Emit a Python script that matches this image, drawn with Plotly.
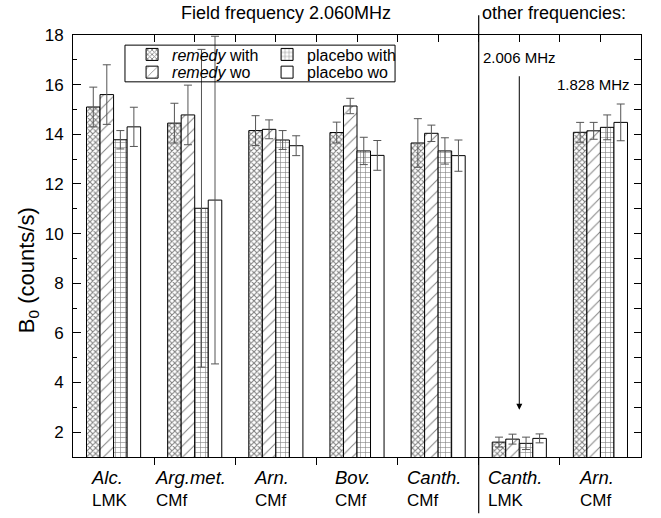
import plotly.graph_objects as go

# ---- data ----
group_names = ["Alc.", "Arg.met.", "Arn.", "Bov.", "Canth.", "Canth.", "Arn."]
group_preps = ["LMK", "CMf", "CMf", "CMf", "CMf", "LMK", "CMf"]

remedy_with = [15.1, 14.45, 14.15, 14.07, 13.65, 1.6, 14.08]
remedy_with_err = [0.8, 0.8, 0.6, 0.42, 0.98, 0.2, 0.4]
remedy_wo = [15.6, 14.78, 14.2, 15.14, 14.04, 1.72, 14.14]
remedy_wo_err = [1.2, 1.2, 0.38, 0.31, 0.33, 0.2, 0.34]
placebo_with = [13.78, 11.02, 13.77, 13.33, 13.33, 1.55, 14.28]
placebo_with_err = [0.37, 6.4, 0.38, 0.55, 0.53, 0.25, 0.5]
placebo_wo = [14.3, 11.35, 13.54, 13.15, 13.14, 1.75, 14.48]
placebo_wo_err = [0.79, 6.6, 0.4, 0.6, 0.63, 0.18, 0.74]

y_ticks = [2, 4, 6, 8, 10, 12, 14, 16, 18]

x = list(range(len(group_names)))

FONT = "Liberation Sans, Arial, sans-serif"

series = [
    ("<i>remedy</i> with", remedy_with, remedy_with_err, dict(shape="x", size=4, solidity=0.45), "legend"),
    ("<i>remedy</i> wo", remedy_wo, remedy_wo_err, dict(shape="/", size=8, solidity=0.12), "legend2"),
    ("placebo with", placebo_with, placebo_with_err, dict(shape="+", size=5, solidity=0.22), "legend"),
    ("placebo wo", placebo_wo, placebo_wo_err, dict(shape="", size=5, solidity=0.2), "legend2"),
]

fig = go.Figure()
for name, vals, errs, pat, leg in series:
    fig.add_trace(go.Bar(
        x=x, y=vals, name=name, legend=leg,
        marker=dict(color="white", line=dict(color="black", width=1),
                    pattern=dict(fgcolor="black", bgcolor="white", **pat)),
        error_y=dict(type="data", array=errs, visible=True, color="#555555",
                     thickness=1, width=4),
    ))

# invisible trace to hold the top/right axes
fig.add_trace(go.Scatter(x=[None], y=[None], xaxis="x2", yaxis="y2",
                         showlegend=False, hoverinfo="skip"))

leg_common = dict(xanchor="left", yanchor="top", orientation="h",
                  bgcolor="rgba(0,0,0,0)", borderwidth=0, font=dict(size=16),
                  itemwidth=30, entrywidth=90, entrywidthmode="pixels")

fig.update_layout(
    width=661, height=518,
    margin=dict(l=73, r=20, t=35, b=61),
    paper_bgcolor="white", plot_bgcolor="white",
    font=dict(family=FONT, color="black", size=16),
    barmode="group", bargap=0.333, bargroupgap=0,
    xaxis=dict(range=[-0.5, 6.5], tickvals=x, ticktext=[""] * len(x), ticks="",
               showline=True, linecolor="black", linewidth=1, showgrid=False,
               zeroline=False,
               minor=dict(tickvals=[0.5, 1.5, 2.5, 3.5, 4.5, 5.5], ticks="outside",
                          ticklen=7, tickcolor="black", showgrid=False)),
    xaxis2=dict(overlaying="x", side="top", range=[-0.5, 6.5],
                tickvals=[i * 0.5 for i in range(1, 13)], ticks="inside", ticklen=7,
                tickcolor="black", showticklabels=False, showline=True,
                linecolor="black", linewidth=1, showgrid=False, zeroline=False),
    yaxis=dict(range=[1, 18], tickvals=y_ticks, ticks="inside", ticklen=8,
               tickcolor="black", showline=True, linecolor="black", linewidth=1,
               showgrid=False, zeroline=False, tickfont=dict(size=17),
               ticklabelstandoff=5,
               minor=dict(dtick=1, tick0=0, ticks="inside", ticklen=4,
                          tickcolor="black", showgrid=False)),
    yaxis2=dict(overlaying="y", side="right", range=[1, 18], dtick=1, tick0=0,
                ticks="inside", ticklen=7, tickcolor="black", showticklabels=False,
                showline=True, linecolor="black", linewidth=1, showgrid=False,
                zeroline=False),
    legend=dict(x=0.104, y=0.994, **leg_common),
    legend2=dict(x=0.104, y=0.952, **leg_common),
    showlegend=True,
)

# x category labels (two lines, left aligned block)
for xi, n, p in zip(x, group_names, group_preps):
    fig.add_annotation(text=f"<span style='font-size:18.5px'><i>{n}</i></span><br>{p}",
                       xref="x", yref="paper",
                       x=xi, y=-0.018, xanchor="center", yanchor="top", align="left",
                       showarrow=False, font=dict(size=17), xshift=-4)

# y axis title
fig.add_annotation(text="B<sub>0</sub> (counts/s)", xref="paper", yref="paper",
                   x=-0.079, y=0.443, textangle=-90, showarrow=False,
                   font=dict(size=22), xanchor="center", yanchor="middle")

# legend frame
fig.add_shape(type="rect", xref="paper", yref="paper", x0=0.0915, x1=0.567,
              y0=0.889, y1=0.976, line=dict(color="black", width=1),
              fillcolor="rgba(0,0,0,0)", layer="above")

# divider between field frequency and other frequencies
fig.add_shape(type="line", xref="x", yref="paper", x0=4.5, x1=4.5,
              y0=-0.133, y1=1.047, line=dict(color="black", width=1.2))

fig.add_annotation(text="Field frequency 2.060MHz", xref="paper", yref="paper",
                   x=0.375, y=1.052, showarrow=False, font=dict(size=18),
                   xanchor="center", yanchor="middle")
fig.add_annotation(text="other frequencies:", xref="paper", yref="paper",
                   x=0.716, y=1.052, showarrow=False, font=dict(size=18),
                   xanchor="left", yanchor="middle")

# 2.006 MHz label with arrow
fig.add_annotation(text="2.006 MHz", xref="x", yref="y", x=5, y=17.1,
                   showarrow=False, font=dict(size=15), xanchor="center", yanchor="middle")
fig.add_annotation(text="", xref="x", yref="y", x=5, y=2.9, ax=5, ay=16.4,
                   axref="x", ayref="y", showarrow=True, arrowhead=2,
                   arrowsize=1.2, arrowwidth=1, arrowcolor="black")

# 1.828 MHz label
fig.add_annotation(text="1.828 MHz", xref="paper", yref="y", x=0.985, y=16,
                   showarrow=False, font=dict(size=15), xanchor="right", yanchor="middle")

fig.write_html("out.html")
